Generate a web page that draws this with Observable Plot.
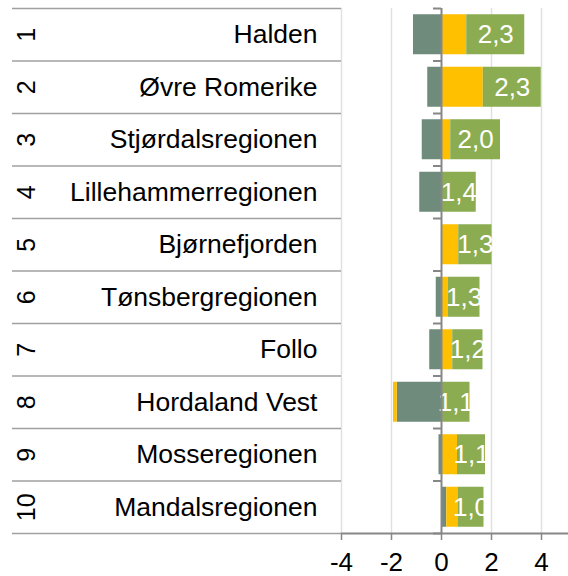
<!DOCTYPE html>
<html><head><meta charset="utf-8">
<script src="https://cdn.jsdelivr.net/npm/d3@7"></script>
<script src="https://cdn.jsdelivr.net/npm/@observablehq/plot@0.6"></script>
<style>html,body{margin:0;padding:0;background:#fff}svg{display:block}</style>
</head><body><div id="chart"></div>
<script>
const ranks = [1, 2, 3, 4, 5, 6, 7, 8, 9, 10];
const regions = ["Halden", "Øvre Romerike", "Stjørdalsregionen", "Lillehammerregionen", "Bjørnefjorden",
  "Tønsbergregionen", "Follo", "Hordaland Vest", "Mosseregionen", "Mandalsregionen"];
const seriesNames = ["A", "B", "C"];
const seriesA = [-1.12, -0.55, -0.77, -0.87, 0.0, -0.21, -0.47, -1.77, -0.10, 0.21];
const seriesB = [1.01, 1.67, 0.37, 0.0, 0.69, 0.27, 0.45, -0.15, 0.64, 0.45];
const seriesC = [2.32, 2.32, 1.99, 1.39, 1.33, 1.27, 1.21, 1.14, 1.12, 1.04];
const xTicks = [-4, -2, 0, 2, 4];
const rowBounds = [1, 2, 3, 4, 5, 6, 7, 8, 9, 10, 11];
const colors = ["#6f8b7c", "#ffc000", "#8bac50"];

const rows = ranks.map((r, i) => ({rank: r, name: regions[i]}));
const data = [];
ranks.forEach((r, i) => {
  [seriesA, seriesB, seriesC].forEach((s, j) => data.push({rank: r, series: seriesNames[j], value: s[i]}));
});
const fmt = v => d3.format(".1f")(v).replace(".", ",");
const half = 26.25;

const chart = Plot.plot({
  width: 568, height: 576,
  marginTop: 8, marginBottom: 43, marginLeft: 341, marginRight: 0,
  style: {fontFamily: "'Liberation Sans', Arial, sans-serif", fontSize: "25px", background: "#fff", color: "#000"},
  x: {domain: [-4, 5.08]},
  y: {domain: [1, 11], reverse: true, axis: null},
  color: {domain: seriesNames, range: colors},
  marks: [
    Plot.ruleX(xTicks.filter(t => t !== 0), {stroke: "#dde2df", strokeWidth: 1.5}),
    Plot.axisY(rowBounds, {tickSize: 329, tickFormat: () => "", label: null, stroke: "#a0a0a0", strokeWidth: 1.5}),
    Plot.rectX(data, {x: "value", y: "rank", interval: 1, fill: "series", insetTop: 6.25, insetBottom: 6.25}),
    Plot.text(data, Plot.stackX({x: "value", y: "rank", z: "series",
      text: d => d.series === "C" ? fmt(d.value) : "", fill: "white", fontSize: 26, dy: half})),
    Plot.ruleX([0], {stroke: "#878787", strokeWidth: 2}),
    Plot.ruleY(rowBounds, {x1: 0, x2: 0, insetLeft: -8, stroke: "#878787", strokeWidth: 2}),
    Plot.ruleY([11], {stroke: "#878787", strokeWidth: 2}),
    Plot.axisX(xTicks, {tickSize: 7, tickPadding: 12, label: null, tickFormat: d => String(d),
      stroke: "#878787", strokeWidth: 1.5, fontSize: 26, fill: "#000"}),
    Plot.text(rows, {y: "rank", text: "name", frameAnchor: "left", dx: -24, dy: half, textAnchor: "end", fontSize: 26.5}),
    Plot.text(rows, {y: "rank", text: d => String(d.rank), frameAnchor: "left", dx: -315, dy: half,
      rotate: -90, textAnchor: "middle", fontSize: 25})
  ]
});
document.getElementById("chart").append(chart);
</script>
</body></html>
